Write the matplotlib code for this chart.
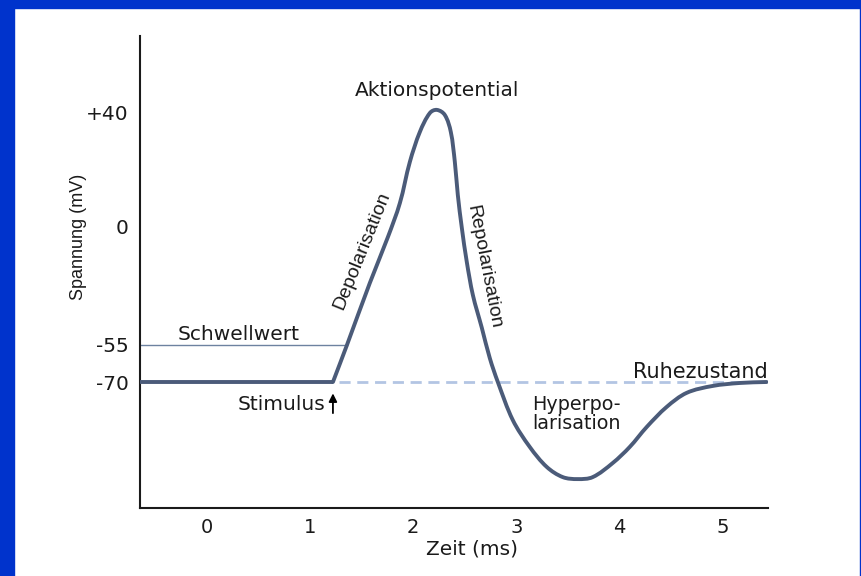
import numpy as np
import matplotlib
matplotlib.use("Agg")
import matplotlib.pyplot as plt
from matplotlib.patches import Rectangle, PathPatch
from matplotlib.path import Path

# ---- data -------------------------------------------------------------
time_ms = [-0.65, 1.221, 1.357, 1.579, 1.754, 1.870, 1.967, 2.064, 2.161, 2.229,
           2.306, 2.364, 2.403, 2.432, 2.471, 2.519, 2.578, 2.665, 2.742, 2.820,
           2.965, 3.130, 3.295, 3.450, 3.595, 3.740, 3.934, 4.099, 4.264, 4.457,
           4.651, 4.903, 5.165, 5.426]
voltage_mV = [-70, -70, -55, -26.3, -5.1, 8.1, 22.7, 33.3, 40.0, 41.1,
              39.3, 33.3, 22.7, 11.0, -0.9, -16.6, -31.9, -47.1, -60.3, -70,
              -85.4, -96.3, -104.4, -108.5, -109.3, -108.5, -102.8, -96.3, -88.2, -80.1,
              -74.4, -71.6, -70.4, -70]
rest_mV = -70
threshold_mV = -55
stimulus_ms = 1.221
threshold_end_ms = 1.357
x_ticks = [0, 1, 2, 3, 4, 5]
x_ticklabels = ["0", "1", "2", "3", "4", "5"]
y_ticks = [-70, -55, 0, 40]
y_ticklabels = ["-70", "-55", "0", "+40"]

# schematic (non-linear) voltage axis: mV anchors -> relative height
mv_anchor = [-121.0, -70.0, -55.0, 0.0, 40.0, 67.3]
h_anchor = [0.0, 126.0, 163.0, 282.0, 395.0, 472.0]

def fwd(v):
    return np.interp(v, mv_anchor, h_anchor)

def inv(h):
    return np.interp(h, h_anchor, mv_anchor)

plt.rcParams["font.family"] = ["DejaVu Sans"]

W, H = 862, 576
fig = plt.figure(figsize=(W / 100, H / 100), dpi=100, facecolor="white")

# blue frame
blue = "#0033cc"
fig.patches.append(Rectangle((0, 0), 14 / W, 1, transform=fig.transFigure, color=blue, zorder=0))
fig.patches.append(Rectangle((0, 1 - 8 / H), 1, 8 / H, transform=fig.transFigure, color=blue, zorder=0))
fig.patches.append(Rectangle((1 - 2 / W, 0), 2 / W, 1, transform=fig.transFigure, color=blue, zorder=0))

ax = fig.add_axes([140 / W, 1 - 508 / H, 628 / W, 472 / H])
ax.set_facecolor("none")
ax.set_yscale("function", functions=(fwd, inv))
ax.set_xlim(-0.65, 5.44)
ax.set_ylim(-121, 67.3)

curve_c = "#4b5b79"
ax.plot([stimulus_ms + 0.06, 5.42], [rest_mV, rest_mV], color="#b3c5e3", lw=2.0,
        dashes=(4, 2.4), zorder=1)
ax.plot([-0.65, threshold_end_ms], [threshold_mV, threshold_mV], color="#6d82a0", lw=1.0, zorder=1)

# flat resting segment up to the stimulus
ax.plot(time_ms[:2], voltage_mV[:2], color=curve_c, lw=2.8, solid_capstyle="butt", zorder=3)

# smooth Hermite/Bezier rendering through the read points (isotropic space)
xs_scale = 103.2
Q = np.column_stack([np.asarray(time_ms[1:], float) * xs_scale,
                     fwd(np.asarray(voltage_mV[1:], float))])
n = len(Q)
T = np.zeros_like(Q)
for i in range(n):
    if i == 0:
        d = Q[1] - Q[0]
    elif i == n - 1:
        d = Q[-1] - Q[-2]
    else:
        d = Q[i + 1] - Q[i - 1]
    T[i] = d / np.hypot(*d)
verts = [Q[0]]
codes = [Path.MOVETO]
for i in range(n - 1):
    L = np.hypot(*(Q[i + 1] - Q[i]))
    verts += [Q[i] + T[i] * L / 3.0, Q[i + 1] - T[i + 1] * L / 3.0, Q[i + 1]]
    codes += [Path.CURVE4] * 3
verts = np.array(verts)
verts[:, 0] = verts[:, 0] / xs_scale
verts[:, 1] = inv(verts[:, 1])
ax.add_patch(PathPatch(Path(verts, codes), facecolor="none", edgecolor=curve_c, lw=2.8,
                       joinstyle="round", capstyle="round", zorder=3))

# stimulus arrow
ax.annotate("", xy=(stimulus_ms, -74.6), xytext=(stimulus_ms, -82.6),
            arrowprops=dict(arrowstyle="-|>", color="black", lw=1.3, mutation_scale=12,
                            shrinkA=0, shrinkB=0))

for s in ("top", "right"):
    ax.spines[s].set_visible(False)
for s in ("left", "bottom"):
    ax.spines[s].set_linewidth(1.5)
    ax.spines[s].set_color("#1a1a1a")

ax.set_xticks(x_ticks)
ax.set_xticklabels(x_ticklabels)
ax.set_yticks(y_ticks)
ax.set_yticklabels(y_ticklabels)
ax.minorticks_off()
ax.tick_params(axis="x", length=0, labelsize=14, colors="#1a1a1a", pad=7)
ax.tick_params(axis="y", length=0, labelsize=14.5, colors="#1a1a1a", pad=8)

def ftext(px_, py_, s, **kw):
    fig.text(px_ / W, 1 - py_ / H, s, **kw)

tc = "#1a1a1a"
ftext(79, 237, "Spannung (mV)", rotation=90, ha="center", va="center", fontsize=13,
      family="Liberation Sans", color=tc)
ftext(472, 549, "Zeit (ms)", ha="center", va="center", fontsize=14.5, color=tc)
ftext(437, 90, "Aktionspotential", ha="center", va="center", fontsize=14.5, color=tc)
ftext(362, 251, "Depolarisation", ha="center", va="center", rotation=68,
      rotation_mode="anchor", fontsize=14, family="Liberation Sans", color=tc)
ftext(484, 267, "Repolarisation", ha="center", va="center", rotation=-79,
      rotation_mode="anchor", fontsize=14, family="Liberation Sans", color=tc)
ftext(239, 335, "Schwellwert", ha="center", va="center", fontsize=14.5, color=tc)
ftext(325, 405, "Stimulus", ha="right", va="center", fontsize=14.5, color=tc)
ftext(700, 372, "Ruhezustand", ha="center", va="center", fontsize=15, color=tc)
ftext(532, 414, "Hyperpo-\nlarisation", ha="left", va="center", fontsize=13.8,
      linespacing=1.0, color=tc)

fig.savefig("out.png", dpi=100, facecolor="white")
